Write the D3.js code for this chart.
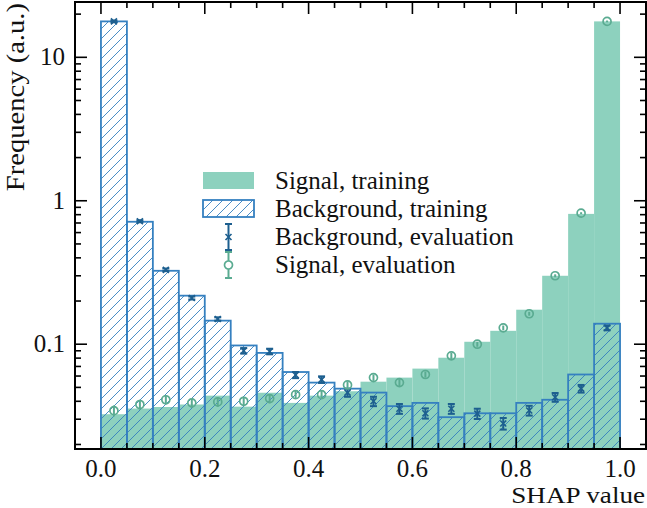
<!DOCTYPE html>
<html>
<head>
<meta charset="utf-8">
<script src="https://cdn.jsdelivr.net/npm/d3@7"></script>
<style>
  body { margin: 0; background: #fff; }
  svg text { font-family: "Liberation Serif", "DejaVu Serif", serif; fill: #111; }
</style>
</head>
<body>
<div class="chart"></div>
<script>
// bin edges : 20 bins of width 0.05 between 0 and 1
const binEdges = [0,0.05,0.1,0.15,0.2,0.25,0.3,0.35,0.4,0.45,0.5,0.55,0.6,0.65,0.7,0.75,0.8,0.85,0.9,0.95,1.0];

// Signal, training (filled)
const sigTrain = [0.0325,0.0356,0.0365,0.038,0.0438,0.0367,0.0459,0.039,0.0438,0.047,0.0548,0.0585,0.0676,0.0805,0.104,0.124,0.174,0.30,0.81,17.8];
// Background, training (hatched)
const bkgTrain = [17.8,0.714,0.325,0.218,0.146,0.098,0.087,0.064,0.054,0.049,0.046,0.037,0.039,0.031,0.033,0.033,0.039,0.041,0.0615,0.139];
// Background, evaluation
const bkgEval = [17.8,0.72,0.33,0.21,0.15,0.090,0.089,0.061,0.0567,0.046,0.040,0.0355,0.033,0.0355,0.0328,0.028,0.0345,0.0427,0.049,0.130];
const bkgErr  = [0.25,0.012,0.007,0.005,0.004,0.004,0.004,0.003,0.003,0.003,0.003,0.0028,0.0027,0.0028,0.0027,0.0026,0.0027,0.003,0.003,0.005];
// Signal, evaluation
const sigEval = [0.0344,0.038,0.041,0.039,0.0396,0.040,0.0418,0.0445,0.0445,0.052,0.0585,0.054,0.0615,0.083,0.10,0.13,0.163,0.30,0.82,17.8];
const sigErr  = [0.003,0.003,0.003,0.003,0.003,0.003,0.003,0.003,0.003,0.003,0.003,0.003,0.003,0.004,0.004,0.005,0.005,0.007,0.012,0.25];

const xMajor = [0,0.2,0.4,0.6,0.8,1.0];
const yMajor = [0.1,1,10];
const legendLabels = ["Signal, training","Background, training","Background, evaluation","Signal, evaluation"];

const colSig = "#8dd1be";      // vert
const colBkg = "#3580c0";      // bleu
const colBkgEval = "#1d5f8f";  // bleu foncé
const colSigEval = "#5aab91";

const W = 647, H = 508;
const plot = {left: 75, right: 646, top: 2, bottom: 449};

const svg = d3.select(".chart").append("svg")
  .attr("width", W).attr("height", H);

const x = d3.scaleLinear().domain([-0.05, 1.05]).range([plot.left, plot.right]);
const y = d3.scaleLog().domain([0.0186, 24.3]).range([plot.bottom, plot.top]);

// hachures
const defs = svg.append("defs");
defs.append("pattern")
  .attr("id", "hatch")
  .attr("patternUnits", "userSpaceOnUse")
  .attr("width", 10).attr("height", 10)
  .call(p => {
    p.append("path").attr("d", "M-1,11 L11,-1 M-6,6 L6,-6 M4,16 L16,4")
      .attr("stroke", colBkg).attr("stroke-width", 0.9).attr("fill", "none");
  });
defs.append("clipPath").attr("id", "clip")
  .append("rect").attr("x", plot.left).attr("y", plot.top)
  .attr("width", plot.right - plot.left).attr("height", plot.bottom - plot.top);

const bins = d3.range(sigTrain.length).map(i => ({
  x0: binEdges[i], x1: binEdges[i+1],
  sig: sigTrain[i], bkg: bkgTrain[i],
  be: bkgEval[i], beErr: bkgErr[i],
  se: sigEval[i], seErr: sigErr[i]
}));

const g = svg.append("g").attr("clip-path", "url(#clip)");

// Signal training
g.selectAll(".sig").data(bins).enter().append("rect")
  .attr("x", d => x(d.x0)).attr("width", d => x(d.x1) - x(d.x0))
  .attr("y", d => y(d.sig)).attr("height", d => plot.bottom - y(d.sig))
  .attr("fill", colSig);

// Background training
g.selectAll(".bkg").data(bins).enter().append("rect")
  .attr("x", d => x(d.x0)).attr("width", d => x(d.x1) - x(d.x0))
  .attr("y", d => y(d.bkg)).attr("height", d => plot.bottom - y(d.bkg) + 2)
  .attr("fill", "url(#hatch)")
  .attr("stroke", colBkg).attr("stroke-width", 1.8);

// Background evaluation (x + barres d'erreur)
const be = g.selectAll(".be").data(bins).enter().append("g")
  .attr("transform", d => "translate(" + x((d.x0 + d.x1) / 2) + ",0)");
be.append("line")
  .attr("y1", d => y(d.be - d.beErr)).attr("y2", d => y(d.be + d.beErr))
  .attr("stroke", colBkgEval).attr("stroke-width", 2);
be.selectAll(".cap").data(d => [d.be - d.beErr, d.be + d.beErr]).enter().append("line")
  .attr("x1", -3.5).attr("x2", 3.5).attr("y1", v => y(v)).attr("y2", v => y(v))
  .attr("stroke", colBkgEval).attr("stroke-width", 2);
be.append("path")
  .attr("transform", d => "translate(0," + y(d.be) + ")")
  .attr("d", "M-3,-3L3,3M-3,3L3,-3")
  .attr("stroke", colBkgEval).attr("stroke-width", 1.6);

// Signal evaluation (cercles)
const se = g.selectAll(".se").data(bins).enter().append("g")
  .attr("transform", d => "translate(" + x((d.x0 + d.x1) / 2) + ",0)");
se.append("line")
  .attr("y1", d => y(d.se - d.seErr)).attr("y2", d => y(d.se + d.seErr))
  .attr("stroke", colSigEval).attr("stroke-width", 2);
se.append("circle")
  .attr("cy", d => y(d.se)).attr("r", 4)
  .attr("fill", "none").attr("stroke", colSigEval).attr("stroke-width", 1.7);

// axes : ticks vers l'intérieur sur les 4 côtés
const xMinor = d3.range(0, 1.0001, 0.05).filter(v => !xMajor.some(m => Math.abs(m - v) < 1e-6));
const yMinor = [];
[0.01, 0.1, 1, 10].forEach(dec => d3.range(2, 10).forEach(k => {
  const v = dec * k;
  if (v > y.domain()[0] && v < y.domain()[1]) yMinor.push(v);
}));

const axes = svg.append("g");
function xticks(vals, len) {
  vals.forEach(v => {
    axes.append("line").attr("x1", x(v)).attr("x2", x(v))
      .attr("y1", plot.bottom).attr("y2", plot.bottom - len)
      .attr("stroke", "#000").attr("stroke-width", 1.6);
    axes.append("line").attr("x1", x(v)).attr("x2", x(v))
      .attr("y1", plot.top).attr("y2", plot.top + len)
      .attr("stroke", "#000").attr("stroke-width", 1.6);
  });
}
function yticks(vals, len) {
  vals.forEach(v => {
    axes.append("line").attr("x1", plot.left).attr("x2", plot.left + len)
      .attr("y1", y(v)).attr("y2", y(v))
      .attr("stroke", "#000").attr("stroke-width", 1.6);
    axes.append("line").attr("x1", plot.right).attr("x2", plot.right - len)
      .attr("y1", y(v)).attr("y2", y(v))
      .attr("stroke", "#000").attr("stroke-width", 1.6);
  });
}
xticks(xMajor, 12);
xticks(xMinor, 6);
yticks(yMajor, 12);
yticks(yMinor, 6);

axes.append("rect")
  .attr("x", plot.left).attr("y", plot.top)
  .attr("width", plot.right - plot.left).attr("height", plot.bottom - plot.top)
  .attr("fill", "none").attr("stroke", "#000").attr("stroke-width", 2);

// labels des ticks
axes.selectAll(".xl").data(xMajor).enter().append("text")
  .attr("x", d => x(d)).attr("y", 477)
  .attr("text-anchor", "middle").style("font-size", "25px")
  .text(d => d.toFixed(1));
axes.selectAll(".yl").data(yMajor).enter().append("text")
  .attr("x", 65).attr("y", d => y(d) + 8)
  .attr("text-anchor", "end").style("font-size", "25px")
  .text(d => d3.format("~g")(d));

// titres des axes (police un peu élargie, comme Computer Modern)
svg.append("text")
  .attr("transform", "translate(" + (plot.right - 1) + ",503) scale(1.13,1)")
  .attr("text-anchor", "end").style("font-size", "24px")
  .text("SHAP value");
svg.append("text")
  .attr("transform", "translate(24," + (plot.top + 1) + ") rotate(-90) scale(1.1,1)")
  .attr("text-anchor", "end").style("font-size", "26px")
  .text("Frequency (a.u.)");

// légende
const lg = svg.append("g").attr("transform", "translate(203,0)");
const rowY = [181, 209, 237, 265];
lg.append("rect").attr("x", 0).attr("y", rowY[0] - 9).attr("width", 51).attr("height", 17)
  .attr("fill", colSig);
lg.append("rect").attr("x", 0).attr("y", rowY[1] - 9).attr("width", 51).attr("height", 17)
  .attr("fill", "url(#hatch)").attr("stroke", colBkg).attr("stroke-width", 1.8);
[[rowY[2], colBkgEval, "x"], [rowY[3], colSigEval, "o"]].forEach(r => {
  const h = lg.append("g").attr("transform", "translate(25.5," + r[0] + ")");
  h.append("line").attr("y1", -13).attr("y2", 13).attr("stroke", r[1]).attr("stroke-width", 2);
  h.selectAll(".c").data([-13, 13]).enter().append("line")
    .attr("x1", -3.5).attr("x2", 3.5).attr("y1", v => v).attr("y2", v => v)
    .attr("stroke", r[1]).attr("stroke-width", 2);
  if (r[2] == "x") h.append("path").attr("d", "M-3,-3L3,3M-3,3L3,-3").attr("stroke", r[1]).attr("stroke-width", 1.6);
  else h.append("circle").attr("r", 4).attr("fill", "#fff").attr("stroke", r[1]).attr("stroke-width", 1.7);
});
lg.selectAll(".lt").data(legendLabels).enter().append("text")
  .attr("x", 72).attr("y", (d, i) => rowY[i] + 8)
  .style("font-size", "25px")
  .text(d => d);
</script>
</body>
</html>
